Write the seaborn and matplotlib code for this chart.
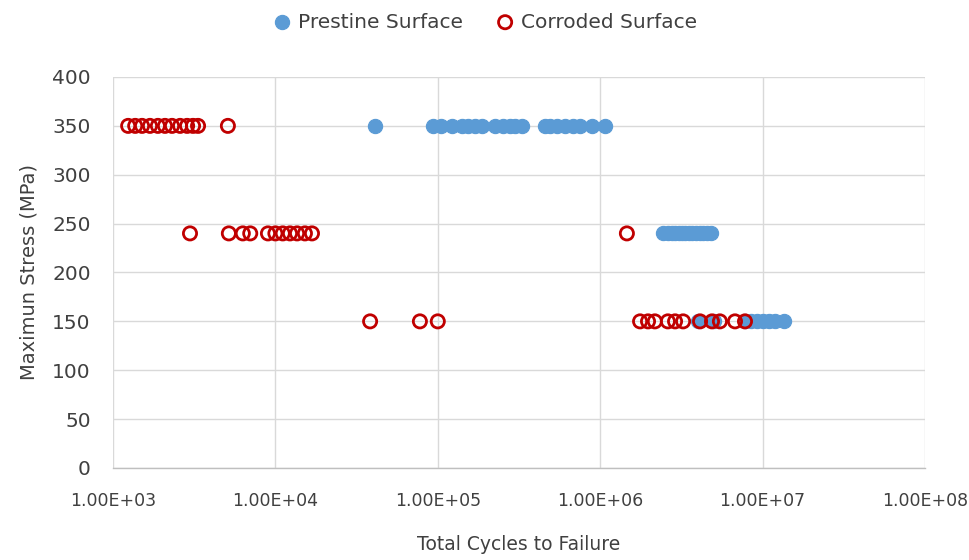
import matplotlib
matplotlib.use("Agg")
import matplotlib.pyplot as plt
import seaborn as sns
import pandas as pd
from matplotlib.ticker import FixedLocator, FixedFormatter

# ---- data ----
prestine_cycles_350 = [41000, 93300, 104700, 122000, 141000, 153000, 169000, 187000, 225000,
                       252000, 278000, 299000, 330000, 457000, 491000, 542000, 607000,
                       680000, 751000, 890000, 1070000]
prestine_cycles_240 = [2.45e6, 2.6e6, 2.75e6, 2.9e6, 3.05e6, 3.2e6, 3.35e6, 3.5e6, 3.7e6,
                       3.9e6, 4.1e6, 4.3e6, 4.55e6, 4.8e6]
prestine_cycles_150 = [4.0e6, 5.0e6, 7.8e6, 8.5e6, 9.3e6, 1.0e7, 1.1e7, 1.2e7, 1.35e7]

corroded_cycles_350 = [1240, 1370, 1510, 1690, 1890, 2090, 2310, 2590, 2860, 3110, 3340, 5100]
corroded_cycles_240 = [2980, 5170, 6300, 7000, 9000, 10000, 11100, 12300, 13600, 15200,
                       16800, 1.46e6]
corroded_cycles_150 = [38300, 77600, 100000, 1.76e6, 1.97e6, 2.17e6, 2.61e6, 2.89e6, 3.24e6,
                       4.12e6, 4.88e6, 5.46e6, 6.76e6, 7.79e6]

stress_levels = [350, 240, 150]
x_ticks = [1e3, 1e4, 1e5, 1e6, 1e7, 1e8]
x_tick_labels = ["1.00E+03", "1.00E+04", "1.00E+05", "1.00E+06", "1.00E+07", "1.00E+08"]
y_ticks = [0, 50, 100, 150, 200, 250, 300, 350, 400]

def build(groups):
    rows = []
    for s, cyc in zip(stress_levels, groups):
        for c in cyc:
            rows.append({"cycles": c, "stress": s})
    return pd.DataFrame(rows)

df_p = build([prestine_cycles_350, prestine_cycles_240, prestine_cycles_150])
df_c = build([corroded_cycles_350, corroded_cycles_240, corroded_cycles_150])

sns.set_theme(style="white")
plt.rcParams["font.family"] = ["DejaVu Sans"]

fig = plt.figure(figsize=(9.69, 5.6), dpi=100)
ax = fig.add_axes([0.1166, 0.1643, 0.8380, 0.6982])

blue = "#5B9BD5"
red = "#C00000"
text_col = "#404040"

sns.scatterplot(data=df_p, x="cycles", y="stress", ax=ax, color=blue, s=105,
                edgecolor=blue, linewidth=0.8, label="Prestine Surface", zorder=3)
sns.scatterplot(data=df_c, x="cycles", y="stress", ax=ax, facecolors="none",
                edgecolor=red, linewidth=2.0, s=90, label="Corroded Surface", zorder=4)

ax.set_xscale("log")
ax.set_xlim(1e3, 1e8)
ax.set_ylim(0, 400)
ax.xaxis.set_major_locator(FixedLocator(x_ticks))
ax.xaxis.set_major_formatter(FixedFormatter(x_tick_labels))
ax.xaxis.set_minor_locator(FixedLocator([]))
ax.set_yticks(y_ticks)

ax.grid(True, color="#D9D9D9", linewidth=1.0, zorder=0)
ax.set_axisbelow(True)
for side in ["top", "right", "left"]:
    ax.spines[side].set_visible(False)
ax.spines["bottom"].set_color("#BFBFBF")
ax.spines["bottom"].set_linewidth(1.0)

ax.tick_params(axis="x", length=0, labelsize=12.5, colors=text_col, pad=17)
ax.tick_params(axis="y", length=0, labelsize=14.5, colors=text_col, pad=16)
ax.set_xlabel("Total Cycles to Failure", fontsize=13.5, color=text_col, labelpad=18)
ax.set_ylabel("Maximun Stress (MPa)", fontsize=14, color=text_col, labelpad=10)

handles, labels = ax.get_legend_handles_labels()
ax.get_legend().remove()
leg = fig.legend(handles, labels, loc="center", bbox_to_anchor=(0.5, 1 - 22 / 560), ncol=2,
                 frameon=False, fontsize=14.5, handlelength=1.0, handletextpad=0.3,
                 columnspacing=1.6)
for t in leg.get_texts():
    t.set_color(text_col)

fig.savefig("out.png", dpi=100)
